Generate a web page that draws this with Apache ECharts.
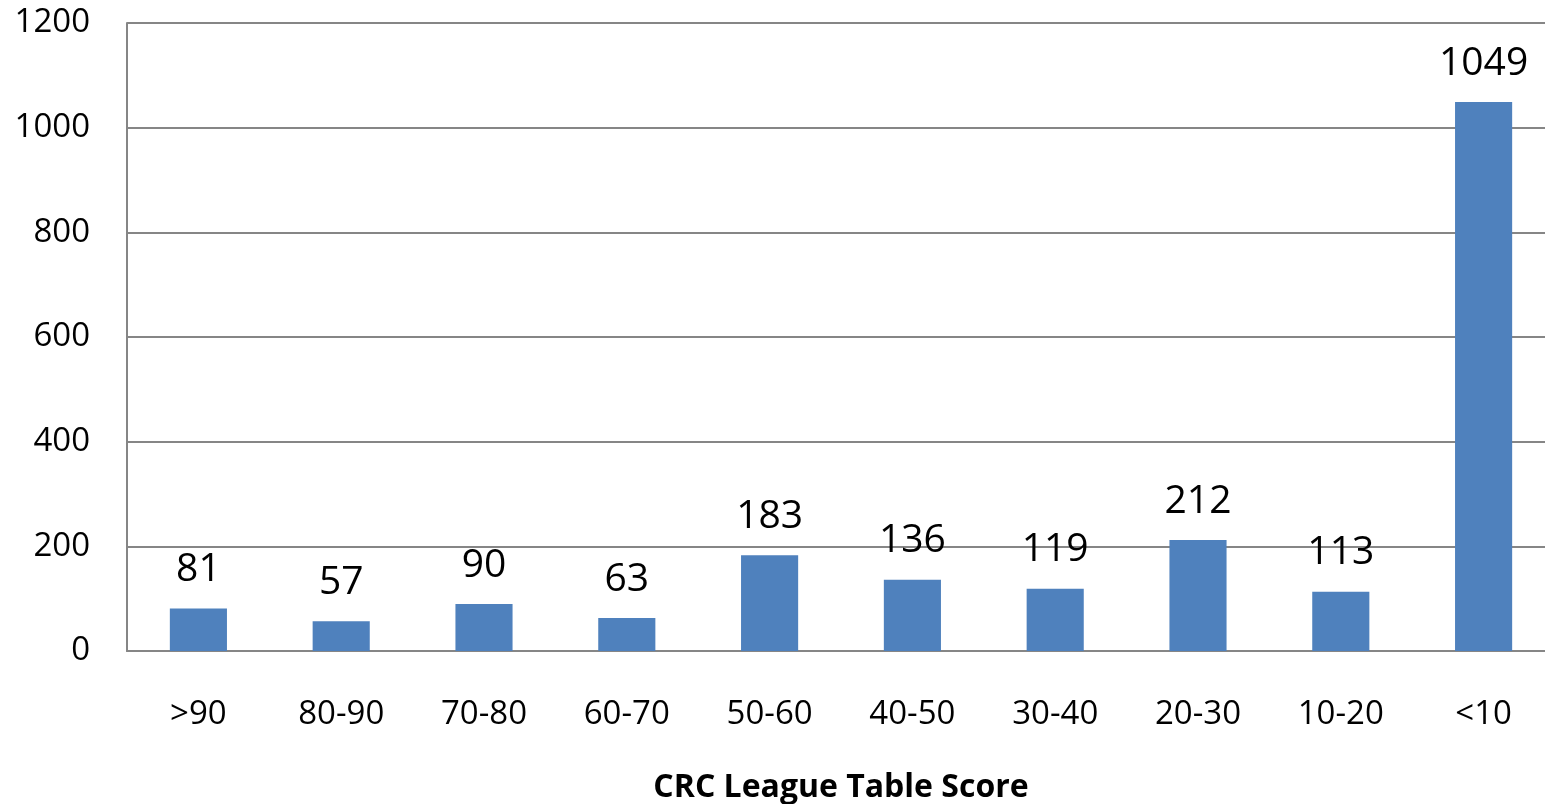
<!DOCTYPE html>
<html>
<head>
<meta charset="utf-8">
<script src="https://cdn.jsdelivr.net/npm/echarts@6/dist/echarts.min.js"></script>
<style>
  html, body { margin: 0; padding: 0; background: #fff; }
  #chart { width: 1545px; height: 804px; }
</style>
</head>
<body>
<div id="chart"></div>
<script>
// Score bands (highest first) and the number of entries in each band
const categories = ['>90', '80-90', '70-80', '60-70', '50-60', '40-50', '30-40', '20-30', '10-20', '<10'];
const counts = [81, 57, 90, 63, 183, 136, 119, 212, 113, 1049];
const axisTitle = 'CRC League Table Score';

const FONT = '"Open Sans", "Noto Sans", sans-serif';
const chart = echarts.init(document.getElementById('chart'));

chart.setOption({
  animation: false,
  backgroundColor: '#fff',
  // plot area runs slightly past the right edge of the canvas
  grid: {
    left: 127, width: 1428, top: 23, bottom: 153,
    containLabel: false, outerBoundsMode: 'none'
  },
  xAxis: {
    type: 'category',
    data: categories,
    axisLine: { show: true, lineStyle: { color: '#868686', width: 2 } },
    axisTick: { show: false },
    axisLabel: { color: '#000', fontFamily: FONT, fontSize: 33, margin: 47 },
    name: axisTitle,
    nameLocation: 'middle',
    nameGap: 121,
    nameTextStyle: { color: '#000', fontFamily: FONT, fontSize: 32, fontWeight: 'bold' }
  },
  yAxis: {
    type: 'value',
    min: 0,
    max: 1200,
    interval: 200,
    axisLine: { show: true, lineStyle: { color: '#868686', width: 2 } },
    axisTick: { show: false },
    axisLabel: {
      color: '#000', fontFamily: FONT, fontSize: 33, margin: 37,
      formatter: (v) => String(v)
    },
    splitLine: { show: true, lineStyle: { color: '#868686', width: 2 } }
  },
  series: [{
    type: 'bar',
    data: counts,
    barWidth: '40%',
    itemStyle: { color: '#4F81BD' },
    label: {
      show: true,
      position: 'top',
      distance: 19,
      color: '#000',
      fontFamily: FONT,
      fontSize: 39
    }
  }]
});
</script>
</body>
</html>
